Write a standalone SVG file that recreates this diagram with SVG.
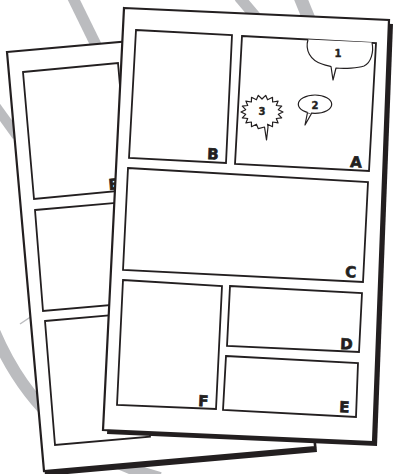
<svg xmlns="http://www.w3.org/2000/svg" width="394" height="474" viewBox="0 0 394 474">
<style>
.shadow{fill:#231f20}
.page{fill:#fff;stroke:#231f20;stroke-width:2.2;stroke-linejoin:miter}
.panel{fill:#fff;stroke:#231f20;stroke-width:1.8;stroke-linejoin:miter}
.swoosh{fill:none;stroke:#bbbcbf;stroke-linecap:butt}
.bubble{fill:#fff;stroke:#231f20;stroke-width:1.2;stroke-linejoin:round}
.lbl{font-family:"DejaVu Sans",Lato,sans-serif;font-weight:bold;font-size:15px;fill:#231f20;stroke:#231f20;stroke-width:0.7}
.num{font-family:"DejaVu Sans",Lato,sans-serif;font-weight:bold;font-size:10px;fill:#231f20;text-anchor:middle;stroke:#231f20;stroke-width:0.4}
</style>
<rect width="394" height="474" fill="#fff"/>
<g id="swooshes">
<path class="swoosh" stroke-width="11" d="M72 -4 L97 47"/>
<path class="swoosh" stroke-width="10" d="M-6 104 L17 136"/>
<path class="swoosh" stroke-width="12" d="M-8 326 Q40 445 160 478"/>
<path class="swoosh" stroke-width="1.5" d="M20 324 L32 316"/>
<path class="swoosh" stroke-width="11" d="M239 -3 L256 17"/>
<path class="swoosh" stroke-width="13" d="M300 -3 L309 19"/>
</g>
<g id="back-page">
<polygon class="shadow" points="8,57 279,33 317,452 45,476"/>
<polygon class="page" points="7,52 278,28 315,447 44,471"/>
<polygon class="panel" points="23,72 118,63 129,190 34,199"/>
<polygon class="panel" points="35,210 130,201.7 138,302.7 43,311"/>
<polygon class="panel" points="45,321 140,312.7 150,436.7 55,445"/>
<text class="lbl" transform="translate(109,190) rotate(-5)">B</text>
</g>
<g id="front-page">
<polygon class="shadow" points="128,12 393,24 377,446 107,434"/>
<polygon class="page" points="124,8 389,20 373,442 103,430"/>
</g>
<g id="panel-B">
<polygon class="panel" points="136,30 232,35 226,163 129,158"/>
<text class="lbl" transform="translate(207,159) rotate(2.6)">B</text>
</g>
<g id="panel-A">
<polygon class="panel" points="242,36 376,43 369,171 235,164"/>
<text class="lbl" transform="translate(350,167) rotate(2.6)">A</text>
</g>
<g id="bubble-1">
<path class="bubble" d="M308 39.5 C305 50 310 60 322 64 C326 65.5 329 66 331 66.5 L333 80 L336 68 C345 69 358 68 364 66 C371 63 374 52 372 42.5"/>
<text class="num" x="338" y="57">1</text>
</g>
<g id="bubble-2">
<path class="bubble" d="M307.5 112.5 L305 125 L311.5 113.5 Z"/>
<ellipse class="bubble" cx="315" cy="104.2" rx="16.7" ry="9.2"/>
<path d="M307.8 111.6 L311 113" stroke="#fff" stroke-width="1.6"/>
<text class="num" x="315" y="108.5">2</text>
</g>
<g id="bubble-3">
<polygon class="bubble" points="283,112 278.3,114.3 281.7,117.8 276.3,118.5 278.1,122.9 272.6,122 272.5,126.7 267.6,124.2 268,127 266.5,140 264.5,127 258.3,128.7 256.4,124.2 251.5,126.7 251.4,122 245.9,122.9 247.7,118.5 242.3,117.8 245.7,114.3 241,112 245.7,109.7 242.3,106.2 247.7,105.5 245.9,101.1 251.4,102 251.5,97.3 256.4,99.8 258.3,95.3 262,99 265.7,95.3 267.6,99.8 272.5,97.3 272.6,102 278.1,101.1 276.3,105.5 281.7,106.2 278.3,109.7"/>
<text class="num" x="262" y="115">3</text>
</g>
<g id="panel-C">
<polygon class="panel" points="128,168 368,182 363,282 123,270"/>
<text class="lbl" transform="translate(345,277) rotate(2.6)">C</text>
</g>
<g id="panel-F">
<polygon class="panel" points="123,280 222,286 216,409 117,405"/>
<text class="lbl" transform="translate(198,406) rotate(2.6)">F</text>
</g>
<g id="panel-D">
<polygon class="panel" points="230,286 362,293 359,352 227,346"/>
<text class="lbl" transform="translate(340,349) rotate(2.6)">D</text>
</g>
<g id="panel-E">
<polygon class="panel" points="226,356 358,363 356,417 223,410"/>
<text class="lbl" transform="translate(339,412) rotate(2.6)">E</text>
</g>
</svg>
